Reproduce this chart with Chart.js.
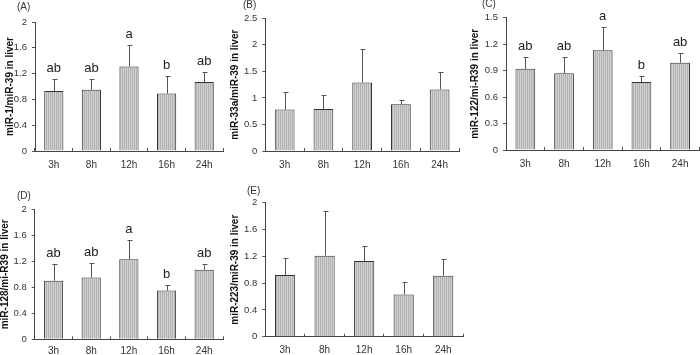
<!DOCTYPE html>
<html>
<head>
<meta charset="utf-8">
<script src="https://cdn.jsdelivr.net/npm/chart.js@4.4.1/dist/chart.umd.min.js"></script>
<style>
  body { margin: 0; background: #fff; width: 700px; height: 355px; overflow: hidden; position: relative; font-family: "Liberation Sans", Arial, sans-serif; }
  .p { position: absolute; }
  .lab { position: absolute; font-size: 10px; line-height: 12px; color: #333; }
</style>
</head>
<body>
<div class="p" style="left:0;top:0;width:230px;height:175px"><canvas id="cA"></canvas></div>
<div class="p" style="left:230px;top:0;width:235px;height:175px"><canvas id="cB"></canvas></div>
<div class="p" style="left:465px;top:0;width:235px;height:175px"><canvas id="cC"></canvas></div>
<div class="p" style="left:0;top:175px;width:230px;height:180px"><canvas id="cD"></canvas></div>
<div class="p" style="left:230px;top:175px;width:240px;height:180px"><canvas id="cE"></canvas></div>
<div class="lab" style="left:17px;top:1px">(A)</div>
<div class="lab" style="left:243px;top:-1px">(B)</div>
<div class="lab" style="left:482px;top:-2px">(C)</div>
<div class="lab" style="left:17px;top:190px">(D)</div>
<div class="lab" style="left:247px;top:185px">(E)</div>
<script>
// sampling times
const times = ["3h", "8h", "12h", "16h", "24h"];

// (A) miR-1
const meanA = [0.93, 0.95, 1.31, 0.89, 1.07];
const sdA = [0.19, 0.16, 0.34, 0.27, 0.15];
const letA = ["ab", "ab", "a", "b", "ab"];
const ticksA = [0, 0.4, 0.8, 1.2, 1.6, 2];

// (B) miR-33a
const meanB = [0.78, 0.79, 1.29, 0.88, 1.16];
const sdB = [0.33, 0.27, 0.63, 0.09, 0.33];
const ticksB = [0, 0.5, 1, 1.5, 2, 2.5];

// (C) miR-122
const meanC = [0.92, 0.87, 1.13, 0.77, 0.99];
const sdC = [0.14, 0.18, 0.26, 0.07, 0.11];
const letC = ["ab", "ab", "a", "b", "ab"];
const ticksC = [0, 0.3, 0.6, 0.9, 1.2, 1.5];

// (D) miR-128
const meanD = [0.9, 0.95, 1.23, 0.75, 1.07];
const sdD = [0.26, 0.23, 0.3, 0.09, 0.09];
const letD = ["ab", "ab", "a", "b", "ab"];
const ticksD = [0, 0.4, 0.8, 1.2, 1.6, 2];

// (E) miR-223
const meanE = [0.92, 1.21, 1.13, 0.63, 0.91];
const sdE = [0.25, 0.67, 0.23, 0.19, 0.25];
const ticksE = [0, 0.4, 0.8, 1.2, 1.6, 2];

const FONT = "'Liberation Sans', Arial, sans-serif";

// striped grey fill like the original bars
function hatch(ctx) {
  const c = document.createElement("canvas");
  c.width = 2;
  c.height = 2;
  const g = c.getContext("2d");
  g.fillStyle = "#d0d0d0";
  g.fillRect(0, 0, 2, 2);
  g.fillStyle = "#b2b2b2";
  g.fillRect(0, 0, 1, 2);
  return ctx.createPattern(c, "repeat");
}

function makePanel(id, title, mean, sd, letters, ticks, lay) {
  const canvas = document.getElementById(id);
  const ctx = canvas.getContext("2d");

  // upper error bars + significance letters
  const errPlugin = {
    id: "err_" + id,
    afterDatasetsDraw(chart) {
      const c = chart.ctx;
      const y = chart.scales.y;
      const bars = chart.getDatasetMeta(0).data;
      c.save();
      c.strokeStyle = "#555";
      c.lineWidth = 1;
      c.fillStyle = "#222";
      c.font = "13px " + FONT;
      c.textAlign = "center";
      c.textBaseline = "alphabetic";
      bars.forEach((bar, i) => {
        const x = Math.round(bar.x) + 0.5;
        const top = Math.round(y.getPixelForValue(mean[i] + sd[i])) + 0.5;
        c.beginPath();
        c.moveTo(x, bar.y);
        c.lineTo(x, top);
        c.moveTo(x - 2, top);
        c.lineTo(x + 3, top);
        c.stroke();
        if (letters) c.fillText(letters[i], bar.x, top - 8);
      });
      c.restore();
    },
  };

  return new Chart(ctx, {
    type: "bar",
    data: {
      labels: times,
      datasets: [
        {
          data: mean,
          backgroundColor: hatch(ctx),
          borderColor: "#333",
          borderWidth: 1,
          borderSkipped: "start",
          categoryPercentage: 1,
          barPercentage: 0.51,
        },
      ],
    },
    options: {
      responsive: true,
      maintainAspectRatio: false,
      animation: false,
      layout: { padding: { top: lay.top, right: lay.right, left: 0, bottom: 0 } },
      plugins: { legend: { display: false }, tooltip: { enabled: false } },
      scales: {
        x: {
          grid: { offset: true, drawOnChartArea: false, drawTicks: true, tickLength: -3, color: "#555" },
          border: { display: true, color: "#444", width: 1 },
          ticks: { color: "#333", font: { size: 10, family: FONT }, padding: lay.xPad, maxRotation: 0 },
          afterFit(s) { s.height = lay.xH; },
        },
        y: {
          min: 0,
          max: ticks[ticks.length - 1],
          afterBuildTicks(s) { s.ticks = ticks.map((v) => ({ value: v })); },
          grid: { drawOnChartArea: false, drawTicks: true, tickLength: 3, color: "#555" },
          border: { display: true, color: "#444", width: 1 },
          ticks: {
            color: "#333",
            font: { size: 9.5, family: FONT },
            padding: 5,
            callback: (v) => String(v),
          },
          title: {
            display: true,
            text: title,
            color: "#111",
            font: { size: 10, weight: "bold", family: FONT },
            padding: { top: lay.tPad, bottom: 0 },
          },
          afterFit(s) { s.width = lay.yW; },
        },
      },
    },
    plugins: [errPlugin],
  });
}

makePanel("cA", "miR-1/miR-39 in liver", meanA, sdA, letA, ticksA,
  { yW: 35, top: 22, right: 7, xH: 24, xPad: 11.5, tPad: 4.5 });
makePanel("cB", "miR-33a/miR-39 in liver", meanB, sdB, null, ticksB,
  { yW: 35.3, top: 18.3, right: 6, xH: 24, xPad: 11.5, tPad: -0.5 });
makePanel("cC", "miR-122/mi-R39 in liver", meanC, sdC, letC, ticksC,
  { yW: 41, top: 17.7, right: 0.5, xH: 25, xPad: 11.5, tPad: 4.7 });
makePanel("cD", "miR-128/mi-R39 in liver", meanD, sdD, letD, ticksD,
  { yW: 34.7, top: 34.3, right: 7, xH: 15.7, xPad: 9.4, tPad: -0.5 });
makePanel("cE", "miR-223/miR-39 in liver", meanE, sdE, null, ticksE,
  { yW: 35.3, top: 27.7, right: 7, xH: 18.3, xPad: 11, tPad: -1 });
</script>
</body>
</html>
